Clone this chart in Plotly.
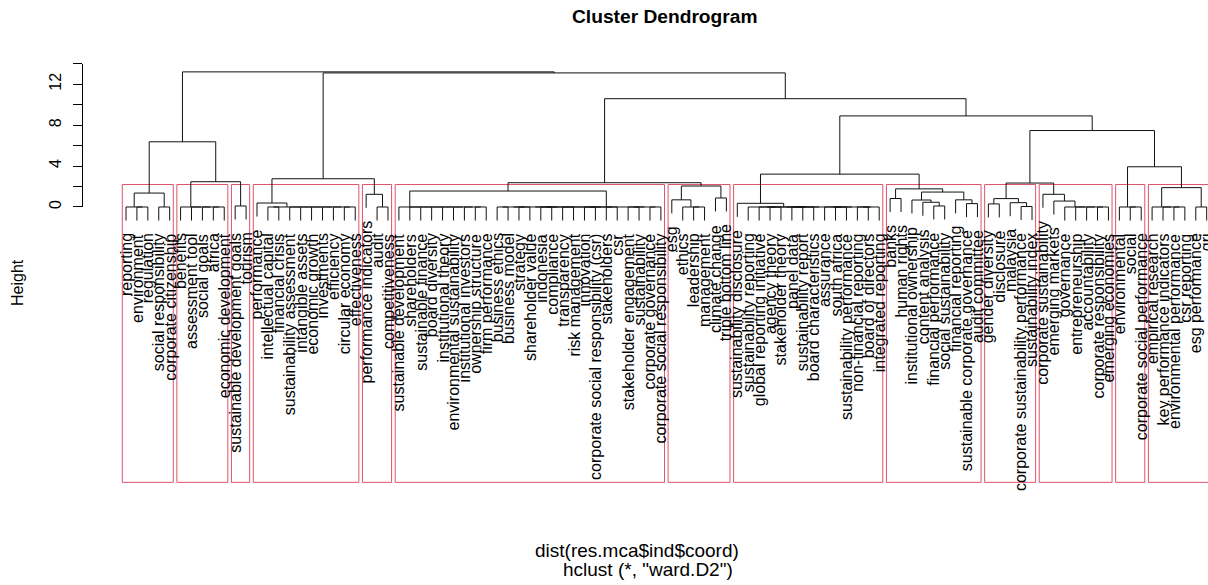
import plotly.graph_objects as go

# ---------------- data ----------------
labels = [
    "reporting", "environment", "regulation", "social responsibility", "corporate citizenship",
    "benefits", "assessment tool", "social goals", "africa", "economic development",
    "sustainable development goals", "tourism",
    "performance", "intellectual capital", "financial crisis", "sustainability assessment",
    "intangible assets", "economic growth", "investments", "efficiency", "circular economy",
    "effectiveness",
    "performance indicators", "audit", "competitiveness",
    "sustainable development", "shareholders", "sustainable finance", "board diversity",
    "institutional theory", "environmental sustainability", "institutional investors",
    "ownership structure", "firm performance", "business ethics", "business model", "strategy",
    "shareholder value", "indonesia", "compliance", "transparency", "risk management",
    "innovation", "corporate social responsibility (csr)", "stakeholders", "csr",
    "stakeholder engagement", "sustainability", "corporate governance",
    "corporate social responsibility",
    "esg", "ethics", "leadership", "management", "climate change", "triple bottom line",
    "sustainability disclosure", "sustainability reporting", "global reporting initiative",
    "agency theory", "stakeholder theory", "panel data", "sustainability report",
    "board characteristics", "assurance", "south africa", "sustainability performance",
    "non-financial reporting", "board of directors", "integrated reporting",
    "banks", "human rights", "institutional ownership", "content analysis",
    "financial performance", "social sustainability", "financial reporting",
    "sustainable corporate governance", "audit committee",
    "gender diversity", "disclosure", "malaysia", "corporate sustainability performance",
    "sustainability index",
    "corporate sustainability", "emerging markets", "governance", "entrepreneurship",
    "accountability", "corporate responsibility", "emerging economies",
    "environmental", "social", "corporate social performance",
    "empirical research", "key performance indicators", "environmental performance",
    "csr reporting", "esg performance", "gri",
]

# merges: [height, left, right]; integers are leaf positions (left to right)
c1 = [1.36, [0.0, 0, [0.0, 1, 2]], [0.0, 3, 4]]
c2 = [0.0, 5, [0.0, 6, [0.0, 7, [0.0, 8, 9]]]]
c3 = [0.1, 10, 11]
c4 = [0.39, 12, [0.0, [0.0, 13, 14], [0.0, 15, [0.0, 16, [0.0, 17, [0.0, 18, [0.0, 19, [0.0, 20, 21]]]]]]]]
c5 = [1.24, 22, [0.0, 23, 24]]
c6 = [1.56,
      [0.0, 25, [0.0, 26, [0.0, 27, [0.0, 28, [0.0, 29, [0.0, 30, [0.0, 31, [0.0, 32, 33]]]]]]]],
      [0.0,
       [0.0, [0.0, [0.0, [0.0, 34, 35], [0.0, 36, 37]], [0.0, [0.0, 38, 39], [0.0, 40, 41]]],
        [0.0, [0.0, 42, 43], [0.0, 44, 45]]],
       [0.0, [0.0, 46, 47], [0.0, 48, 49]]]]
c7 = [2.05, [0.7, 50, [0.0, 51, [0.0, 52, 53]]], [0.88, 54, 55]]
c8 = [0.36, 56, [0.0, 57, [0.0, [0.0, [0.0, 58, [0.0, 59, 60]], [0.0, [0.0, 61, 62], 63]],
                               [0.0, [0.0, 64, [0.0, 65, 66]], [0.0, [0.0, 67, 68], 69]]]]]
c9 = [1.77, [0.83, 70, 71], [1.46, [0.68, 72, [0.46, 73, [0.1, 74, 75]]], [0.7, 76, [0.33, 77, 78]]]]
c10 = [0.82, [0.3, 79, 80], [0.42, 81, [0.05, 82, 83]]]
c11 = [1.24, 84, [0.58, 85, [0.0, 86, [0.0, 87, [0.0, 88, [0.0, 89, 90]]]]]]
c12 = [0.0, 91, [0.0, 92, 93]]
c13 = [1.89, [0.0, 94, [0.0, 95, [0.0, 96, 97]]], [0.0, 98, 99]]
clusters = [c1, c2, c3, c4, c5, c6, c7, c8, c9, c10, c11, c12, c13]

tree = [13.2,
        [6.37, c1, [2.47, c2, c3]],
        [13.1,
         [2.76, c4, c5],
         [10.58,
          [2.37, c6, c7],
          [8.9,
           [3.21, c8, c9],
           [7.47, [2.34, c10, c11], [3.93, c12, c13]]]]]]

k_clusters = 13
y_ticks = [0, 2, 4, 6, 8, 10, 12, 14]
y_tick_text = ["0", "", "4", "", "8", "", "12", ""]

title = "Cluster Dendrogram"
x_label = "dist(res.mca$ind$coord)"
sub_label = 'hclust (*, "ward.D2")'
y_label = "Height"

# ---------------- layout constants ----------------
W, H = 1208, 585
LEAF0_PX, LEAF_DX = 126.0, 10.916
ZERO_PX, PX_PER_UNIT = 207.7, 10.27
BOTTOM_PX = 484.0
AXIS_X_PX = 82.0
FONT = "Liberation Sans, Arial, Helvetica, sans-serif"

x_range = [1 - LEAF0_PX / LEAF_DX, 1 + (W - LEAF0_PX) / LEAF_DX]
y_range = [(ZERO_PX - H) / PX_PER_UNIT, ZERO_PX / PX_PER_UNIT]
y_usr_bottom = (ZERO_PX - BOTTOM_PX) / PX_PER_UNIT


def all_heights(node, out):
    if isinstance(node, int):
        return out
    out.append(node[0])
    all_heights(node[1], out)
    all_heights(node[2], out)
    return out


def leaves(node):
    if isinstance(node, int):
        return [node]
    return leaves(node[1]) + leaves(node[2])


heights = sorted(all_heights(tree, []), reverse=True)
hang = 0.1 * (max(heights) - min(heights))

seg_x, seg_y = [], []
leaf_end = {}


def walk(node):
    if isinstance(node, int):
        return node + 1, None
    h, a, b = node
    xa, ha = walk(a)
    xb, hb = walk(b)
    if ha is None:
        ha = h - hang
        leaf_end[a] = ha
    if hb is None:
        hb = h - hang
        leaf_end[b] = hb
    seg_x.extend([xa, xa, xb, xb, None])
    seg_y.extend([ha, h, h, hb, None])
    return (xa + xb) / 2.0, h


walk(tree)

fig = go.Figure()
fig.add_trace(go.Scatter(x=seg_x, y=seg_y, mode="lines",
                         line=dict(color="#111111", width=1),
                         hoverinfo="skip", showlegend=False))

# rect.hclust boxes
cut = (heights[k_clusters - 2] + heights[k_clusters - 1]) / 2.0
m = 0
shapes = []
for c in clusters:
    n = len(leaves(c))
    shapes.append(dict(type="rect", xref="x", yref="y",
                       x0=m + 0.66, x1=m + n + 0.33, y0=y_usr_bottom, y1=cut,
                       line=dict(color="#DF536B", width=1), fillcolor="rgba(0,0,0,0)",
                       layer="below"))
    m += n

annotations = []
for i, lab in enumerate(labels):
    annotations.append(dict(x=i + 1, y=leaf_end[i], xref="x", yref="y", text=lab,
                            showarrow=False, textangle=-90, xanchor="center",
                            yanchor="top", yshift=-11,
                            font=dict(family=FONT, size=16, color="black")))


def paper(px, py):
    return px / W, 1 - py / H


tx, ty = paper(665, 17)
annotations.append(dict(x=tx, y=ty, xref="paper", yref="paper", text="<b>%s</b>" % title,
                        showarrow=False, xanchor="center", yanchor="middle",
                        font=dict(family=FONT, size=19.2, color="black")))
tx, ty = paper(637, 552)
annotations.append(dict(x=tx, y=ty, xref="paper", yref="paper", text=x_label,
                        showarrow=False, xanchor="center", yanchor="middle",
                        font=dict(family=FONT, size=19, color="black")))
tx, ty = paper(648, 571)
annotations.append(dict(x=tx, y=ty, xref="paper", yref="paper", text=sub_label,
                        showarrow=False, xanchor="center", yanchor="middle",
                        font=dict(family=FONT, size=19, color="black")))
tx, ty = paper(17, 284)
annotations.append(dict(x=tx, y=ty, xref="paper", yref="paper", text=y_label,
                        showarrow=False, xanchor="center", yanchor="middle", textangle=-90,
                        font=dict(family=FONT, size=16, color="black")))

# y axis (0..14) as its own axis
fig.add_trace(go.Scatter(x=[0], y=[0], xaxis="x2", yaxis="y2", mode="markers",
                         marker=dict(opacity=0), hoverinfo="skip", showlegend=False))

fig.update_layout(
    width=W, height=H, autosize=False,
    margin=dict(l=0, r=0, t=0, b=0, pad=0),
    paper_bgcolor="white", plot_bgcolor="rgba(0,0,0,0)",
    xaxis=dict(range=x_range, visible=False, domain=[0, 1]),
    yaxis=dict(range=y_range, visible=False, domain=[0, 1]),
    xaxis2=dict(domain=[0, 0.02], anchor="y2", visible=False, range=[-1, 1]),
    yaxis2=dict(domain=[1 - ZERO_PX / H, 1 - (ZERO_PX - 14 * PX_PER_UNIT) / H],
                range=[0, 14], anchor="free", position=AXIS_X_PX / W, side="left",
                showline=True, linecolor="black", linewidth=1,
                ticks="outside", ticklen=9, tickwidth=1, tickcolor="black",
                tickvals=y_ticks, ticktext=y_tick_text, tickangle=-90,
                ticklabelstandoff=6,
                tickfont=dict(family=FONT, size=16, color="black"),
                showgrid=False, zeroline=False),
    shapes=shapes,
    annotations=annotations,
    showlegend=False,
)

fig.write_html("out.html", config={"displayModeBar": False},
               post_script="document.body.style.margin='0';document.body.style.overflow='hidden';")
